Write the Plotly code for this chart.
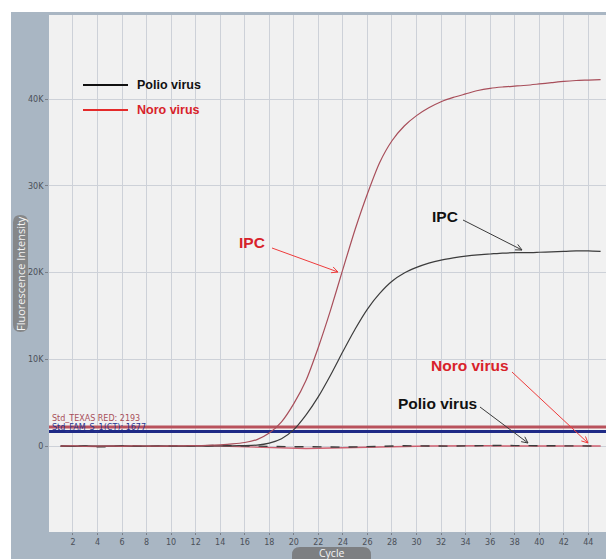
import math
import plotly.graph_objects as go

# ---- data -------------------------------------------------------------
cycles = list(range(1, 46))

# internal positive control, Noro (Texas Red) channel
ipc_noro = [0, 20, -30, 10, 0, -20, 30, 10, -10, 20, 40, 60, 90,
            150, 250, 420, 750, 1500, 2800, 4900, 7600, 11400, 15700,
            20400, 25000, 29100, 32700, 35200, 36900, 38100, 39000,
            39700, 40200, 40600, 41000, 41250, 41400, 41500, 41600,
            41750, 41900, 42050, 42150, 42200, 42250]

# internal positive control, Polio (FAM) channel
ipc_polio = [0, -30, 20, -10, 10, 0, -20, 10, 30, 0, -10, 20, 10, 30, 40,
             60, 120, 350, 850, 1900, 3600, 5700, 8200, 10900, 13500,
             15800, 17600, 19000, 19950, 20600, 21100, 21450, 21700,
             21900, 22050, 22150, 22250, 22300, 22300, 22350, 22400,
             22450, 22500, 22500, 22450]

# target signals (no amplification)
polio_virus = [0, -40, 20, -80, -60, 30, 10, -50, 0, 30, -20, 10, 60, 80,
               50, 20, 0, -60, -100, -80, -60, -40, -100, -120, -80, -30,
               0, 20, 40, 30, 10, -20, 0, 30, 60, 80, 90, 60, 40, 50, 60,
               40, 30, 20, 10]
noro_virus = [10, 30, -20, -40, 20, 40, -10, -30, -60, -20, 0, 30, 20, 0,
              -40, -100, -150, -200, -230, -260, -280, -250, -230, -200,
              -170, -120, -80, -60, -30, -10, 20, 40, 60, 70, 60, 40, 20,
              30, 50, 60, 50, 40, 30, 20, 20]

# detection thresholds
threshold_texas_red = 2193
threshold_fam = 1677

x_ticks = list(range(2, 46, 2))
y_ticks = [0, 10000, 20000, 30000, 40000]
y_tick_text = ["0", "10K", "20K", "30K", "40K"]

# ---- layout geometry --------------------------------------------------
W, H = 606, 559
ML, MR, MT, MB = 49, 0, 15, 27
X0, X1 = 0.05, 45.44
Y0, Y1 = -9900, 49700
PW, PH = W - ML - MR, H - MT - MB


def px_x(px):
    return X0 + (px - ML) / PW * (X1 - X0)


def px_y(py):
    return Y1 - (py - MT) / PH * (Y1 - Y0)


def pap_x(px):
    return (px - ML) / PW


def pap_y(py):
    return (H - MB - py) / PH


def pill(x0, y0, x1, y1, r):
    pts = [
        ("M", (x0 + r, y0)), ("L", (x1 - r, y0)), ("Q", (x1, y0), (x1, y0 + r)),
        ("L", (x1, y1 - r)), ("Q", (x1, y1), (x1 - r, y1)),
        ("L", (x0 + r, y1)), ("Q", (x0, y1), (x0, y1 - r)),
        ("L", (x0, y0 + r)), ("Q", (x0, y0), (x0 + r, y0)),
    ]
    s = ""
    for cmd, *ps in pts:
        s += cmd + " " + " ".join(f"{pap_x(a):.5f},{pap_y(b):.5f}" for a, b in ps) + " "
    return s + "Z"


fig = go.Figure()

RED_CURVE = "#a84e5a"
DARK_CURVE = "#3c3c3c"

fig.add_trace(go.Scatter(x=[0, 46], y=[threshold_texas_red] * 2, mode="lines",
                         line=dict(color="#b9525c", width=3), hoverinfo="skip"))
fig.add_trace(go.Scatter(x=[0, 46], y=[threshold_fam] * 2, mode="lines",
                         line=dict(color="#1f2a86", width=3), hoverinfo="skip"))
fig.add_trace(go.Scatter(x=cycles, y=noro_virus, mode="lines",
                         line=dict(color="#cf6070", width=1.4)))
fig.add_trace(go.Scatter(x=cycles, y=polio_virus, mode="lines",
                         line=dict(color=DARK_CURVE, width=1.4, dash="dash")))
fig.add_trace(go.Scatter(x=cycles, y=ipc_polio, mode="lines",
                         line=dict(color=DARK_CURVE, width=1.2,
                                   shape="spline", smoothing=0.6)))
fig.add_trace(go.Scatter(x=cycles, y=ipc_noro, mode="lines",
                         line=dict(color=RED_CURVE, width=1.2,
                                   shape="spline", smoothing=0.6)))

shapes = [
    # instrument panel and plot area
    dict(type="rect", xref="paper", yref="paper", layer="below",
         x0=pap_x(11), x1=pap_x(W + 2), y0=pap_y(H + 2), y1=pap_y(12),
         fillcolor="#a9b6c3", line=dict(width=0)),
    dict(type="rect", xref="paper", yref="paper", layer="below",
         x0=0, x1=1, y0=0, y1=1, fillcolor="#f1f1f1", line=dict(width=0)),
    # axis-title pills
    dict(type="path", xref="paper", yref="paper", layer="below",
         path=pill(13, 215, 28, 332, 7.5), fillcolor="#858789", line=dict(width=0)),
    dict(type="path", xref="paper", yref="paper", layer="below",
         path=pill(292, 547, 371, 570, 8), fillcolor="#7d7f82", line=dict(width=0)),
    # legend swatches
    dict(type="line", xref="paper", yref="paper", x0=pap_x(83), x1=pap_x(128),
         y0=pap_y(85), y1=pap_y(85), line=dict(color="#111111", width=2)),
    dict(type="line", xref="paper", yref="paper", x0=pap_x(83), x1=pap_x(128),
         y0=pap_y(110), y1=pap_y(110), line=dict(color="#e42a2a", width=2)),
]


def arrow(x0, y0, x1, y1, color, head=7):
    """Thin arrow with an open V head, endpoints in pixels."""
    ang = math.atan2(y1 - y0, x1 - x0)
    out = [dict(type="line", xref="x", yref="y", x0=px_x(x0), y0=px_y(y0),
                x1=px_x(x1), y1=px_y(y1), line=dict(color=color, width=1))]
    for da in (0.45, -0.45):
        hx = x1 - head * math.cos(ang + da)
        hy = y1 - head * math.sin(ang + da)
        out.append(dict(type="line", xref="x", yref="y", x0=px_x(hx), y0=px_y(hy),
                        x1=px_x(x1), y1=px_y(y1), line=dict(color=color, width=1)))
    return out


shapes += arrow(272, 248, 338, 272, "#ee3b3b")
shapes += arrow(463, 220, 522, 250, "#3a3a3a")
shapes += arrow(512, 372, 588, 443, "#ee3b3b")
shapes += arrow(480, 407, 528, 443, "#3a3a3a")

BOLD = "Liberation Sans, Arial, sans-serif"
RED_TXT = "#d8222a"


def label(text, px, py, color, size=15.5, font=BOLD, xanchor="center", **kw):
    return dict(text=text, xref="paper", yref="paper", x=pap_x(px), y=pap_y(py),
                xanchor=xanchor, yanchor="middle", showarrow=False,
                font=dict(family=font, size=size, color=color), **kw)


annotations = [
    label("<b>Polio virus</b>", 135, 85, "#111111", size=12.5, xanchor="left"),
    label("<b>Noro virus</b>", 135, 110, "#d8222a", size=12.5, xanchor="left"),
    label("<b>IPC</b>", 252, 243, RED_TXT),
    label("<b>IPC</b>", 445, 216, "#111111"),
    label("<b>Noro virus</b>", 470, 366, RED_TXT),
    label("<b>Polio virus</b>", 437, 403, "#111111"),
    label(f"Std_TEXAS RED: {threshold_texas_red}", 51, 418.5, "#a8505a",
          size=8, font="DejaVu Sans", xanchor="left", borderpad=0),
    label(f"Std_FAM_S_1(CT): {threshold_fam}", 51, 427, "#2a3590",
          size=8, font="DejaVu Sans", xanchor="left", borderpad=0),
    label("Fluorescence Intensity", 20.5, 273.5, "#f4f4f4", size=11,
          font="Open Sans", textangle=-90),
    label("Cycle", 331.5, 552.5, "#f4f4f4", size=10.5, font="Open Sans",
          borderpad=0),
]

fig.update_layout(
    width=W, height=H,
    margin=dict(l=ML, r=MR, t=MT, b=MB, pad=0),
    paper_bgcolor="white", plot_bgcolor="rgba(0,0,0,0)",
    showlegend=False,
    shapes=shapes, annotations=annotations,
    xaxis=dict(range=[X0, X1], tickvals=x_ticks, ticks="outside", ticklen=2,
               tickcolor="#7a7f88", gridcolor="#cdd1d8", gridwidth=1,
               showline=False, zeroline=False,
               tickfont=dict(family="DejaVu Sans", size=8, color="#4b5058")),
    yaxis=dict(range=[Y0, Y1], tickvals=y_ticks, ticktext=y_tick_text,
               ticks="outside", ticklen=3, tickcolor="#7a7f88",
               gridcolor="#cdd1d8", gridwidth=1, showline=False, zeroline=False,
               tickfont=dict(family="DejaVu Sans", size=8, color="#4b5058")),
)

fig.write_html("out.html")
